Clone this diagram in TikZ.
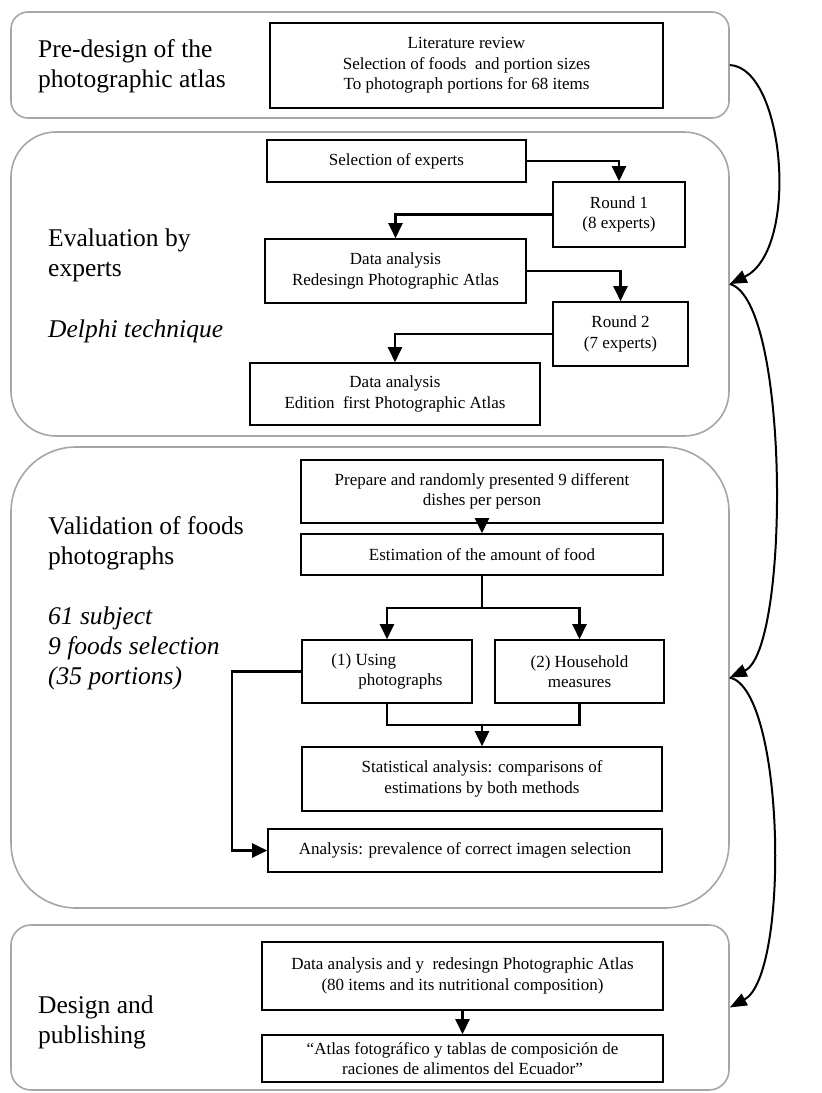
\documentclass[tikz,border=0pt]{standalone}
\usepackage{fontspec}
\setmainfont{Liberation Serif}
\usetikzlibrary{arrows.meta}
\begin{document}
\begin{tikzpicture}[x=1pt,y=-1pt,
  stage/.style={draw=black!35, line width=1.6pt, inner sep=0pt, minimum width=718pt},
  box/.style={draw=black, line width=1.6pt, inner sep=0pt, align=center, font=\fontsize{17}{20.5}\selectfont},
  grp/.style={anchor=west, align=left, inner sep=0pt, font=\fontsize{25.5}{30}\selectfont},
  conn/.style={line width=2.3pt},
  arr/.style={line width=2.3pt, -{Triangle[length=15pt,width=14pt]}},
  flow/.style={line width=2pt, -{Triangle[length=17pt,width=13pt]}},
]
\useasboundingbox (0,0) rectangle (822,1093);

% stages
\node[stage, rounded corners=17pt, minimum height=106pt] (s1) at (370,65) {};
\node[stage, rounded corners=45pt, minimum height=304pt] (s2) at (370,284) {};
\node[stage, rounded corners=65pt, minimum height=461pt] (s3) at (370,677.5) {};
\node[stage, rounded corners=20pt, minimum height=165pt] (s4) at (370,1007.5) {};

% stage labels
\node[grp] (l1) at (38,66) {Pre-design of the\\photographic atlas};
\node[grp] (l2) at (48,255) {Evaluation by\\experts};
\node[grp] (l2b) at (48,331) {\itshape Delphi technique};
\node[grp] (l3) at (48,543) {Validation of foods\\photographs};
\node[grp] (l3b) at (48,648) {\itshape 61 subject\\\itshape 9 foods selection\\\itshape (35 portions)};
\node[grp] (l4) at (38,1022) {Design and\\publishing};

% stage 1
\node[box, minimum width=393pt, minimum height=85pt] (lit) at (466.5,65.5)
  {Literature review\\Selection of foods\ \ and portion sizes\\To photograph portions for 68 items};

% stage 2
\node[box, minimum width=259pt, minimum height=42pt] (selexp) at (396.5,161) {Selection of experts};
\node[box, minimum width=132pt, minimum height=65pt] (r1) at (619,214.5) {Round 1\\(8 experts)};
\node[box, minimum width=261pt, minimum height=64pt] (da1) at (395.5,271) {Data analysis\\Redesingn Photographic Atlas};
\node[box, minimum width=135pt, minimum height=64pt] (r2) at (620.5,334) {Round 2\\(7 experts)};
\node[box, minimum width=290pt, minimum height=62pt] (da2) at (395,394) {Data analysis\\Edition\ \ first Photographic Atlas};

\draw[arr] (selexp.east) -| (r1.north);
\draw[arr] (r1.west) -| (da1.north);
\draw[arr] (da1.east) -| (r2.north);
\draw[arr] (r2.west) -| (da2.north);

% stage 3
\node[box, minimum width=362pt, minimum height=63pt] (prep) at (482,491.5) {Prepare and randomly presented 9 different\\dishes per person};
\node[box, minimum width=362pt, minimum height=41pt] (est) at (482,554.5) {Estimation of the amount of food};
\node[box, align=left, minimum width=170pt, minimum height=63pt] (u1) at (387,671.5) {(1) Using\\\hspace*{27pt}photographs};
\node[box, minimum width=169pt, minimum height=63pt] (u2) at (579.5,671.5) {(2) Household\\measures};
\node[box, minimum width=360pt, minimum height=64pt] (stat) at (482,779) {Statistical analysis: comparisons of\\estimations by both methods};
\node[box, minimum width=394pt, minimum height=43pt] (anl) at (465,850.5) {Analysis: prevalence of correct imagen selection};

\coordinate (split) at (482,608);
\coordinate (join) at (482,725);
\draw[arr] (prep.south) -- (est.north);
\draw[conn] (est.south) -- (split);
\draw[arr] (split) -| (u1.north);
\draw[arr] (split) -| (u2.north);
\draw[conn] (u1.south) |- (join);
\draw[conn] (u2.south) |- (join);
\draw[arr] (join) -- (stat.north);
\draw[arr] (u1.west) -- ++(-69,0) |- (anl.west);

% stage 4
\node[box, minimum width=401pt, minimum height=68pt] (dp) at (462.5,976) {Data analysis and y\ \ redesingn Photographic Atlas\\(80 items and its nutritional composition)};
\node[box, minimum width=401pt, minimum height=47pt] (atl) at (462.5,1058.5) {“Atlas fotográfico y tablas de composición de\\raciones de alimentos del Ecuador”};
\draw[arr] (dp.south) -- (atl.north);

% flow between stages
\draw[flow] (s1.east) .. controls (785,68) and (800,250) .. (s2.east);
\draw[flow] (s2.east) .. controls (790,300) and (790,650) .. (s3.east);
\draw[flow] (s3.east) .. controls (785,690) and (790,975) .. (s4.east);
\end{tikzpicture}
\end{document}
